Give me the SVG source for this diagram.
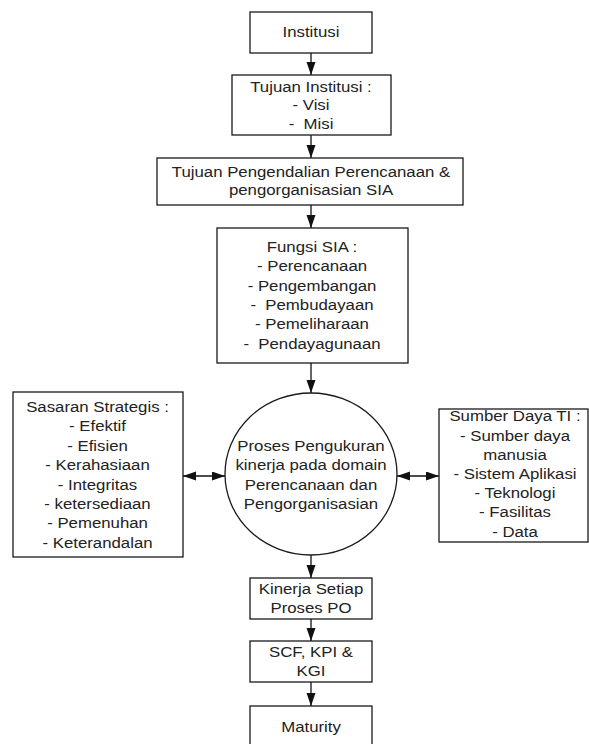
<svg xmlns="http://www.w3.org/2000/svg" width="589" height="744" viewBox="0 0 589 744">
<defs>
<marker id="ah" markerUnits="userSpaceOnUse" markerWidth="14" markerHeight="10" refX="13" refY="4.5" orient="auto-start-reverse">
<path d="M0,0 L13,4.5 L0,9 z" fill="#111"/>
</marker>
<style>
.b{fill:#fff;stroke:#1a1a1a;stroke-width:1.3}
.t{font-family:"Liberation Sans",Arial,sans-serif;font-size:15px;fill:#222;text-anchor:middle;white-space:pre}
.c{stroke:#111;stroke-width:1.3;fill:none;marker-end:url(#ah)}
.d{stroke:#111;stroke-width:1.3;fill:none;marker-start:url(#ah);marker-end:url(#ah)}
</style>
</defs>
<rect width="589" height="744" fill="#fff"/>
<g id="connectors">
<line class="c" x1="311" y1="53" x2="311" y2="75"/>
<line class="c" x1="311" y1="135" x2="311" y2="158"/>
<line class="c" x1="311" y1="205" x2="311" y2="228"/>
<line class="c" x1="311" y1="363" x2="311" y2="393"/>
<line class="c" x1="311" y1="555" x2="311" y2="578"/>
<line class="c" x1="311" y1="619" x2="311" y2="641"/>
<line class="c" x1="311" y1="682" x2="311" y2="706"/>
<line class="d" x1="183" y1="476" x2="225" y2="476"/>
<line class="d" x1="397" y1="476" x2="439" y2="476"/>
</g>
<g id="institusi">
<rect class="b" x="250" y="12" width="122" height="41"/>
<text class="t" transform="matrix(1.12 0 0 1 311 0)"><tspan x="0" y="37.5">Institusi</tspan></text>
</g>
<g id="tujuan-institusi">
<rect class="b" x="232" y="75" width="159" height="60"/>
<text class="t" transform="matrix(1.12 0 0 1 311 0)"><tspan x="0" y="92">Tujuan Institusi :</tspan><tspan x="0" y="110.5">- Visi</tspan><tspan x="0" y="129">-  Misi</tspan></text>
</g>
<g id="tujuan-pengendalian">
<rect class="b" x="157" y="158" width="306" height="47"/>
<text class="t" transform="matrix(1.12 0 0 1 311 0)"><tspan x="0" y="177.5">Tujuan Pengendalian Perencanaan &amp;</tspan><tspan x="0" y="195.5">pengorganisasian SIA</tspan></text>
</g>
<g id="fungsi-sia">
<rect class="b" x="217" y="228" width="191" height="135"/>
<text class="t" transform="matrix(1.12 0 0 1 312 0)"><tspan x="0" y="252">Fungsi SIA :</tspan><tspan x="0" y="271.3">- Perencanaan</tspan><tspan x="0" y="290.6">- Pengembangan</tspan><tspan x="0" y="310">-  Pembudayaan</tspan><tspan x="0" y="329.3">- Pemeliharaan</tspan><tspan x="0" y="348.6">-  Pendayagunaan</tspan></text>
</g>
<g id="sasaran-strategis">
<rect class="b" x="13" y="392" width="170" height="165"/>
<text class="t" transform="matrix(1.12 0 0 1 97.5 0)"><tspan x="0" y="412">Sasaran Strategis :</tspan><tspan x="0" y="431.4">- Efektif</tspan><tspan x="0" y="450.8">- Efisien</tspan><tspan x="0" y="470.2">- Kerahasiaan</tspan><tspan x="0" y="489.6">- Integritas</tspan><tspan x="0" y="509">- ketersediaan</tspan><tspan x="0" y="528.4">- Pemenuhan</tspan><tspan x="0" y="547.8">- Keterandalan</tspan></text>
</g>
<g id="proses-pengukuran">
<ellipse class="b" cx="311" cy="474" rx="86" ry="81"/>
<text class="t" transform="matrix(1.12 0 0 1 311 0)"><tspan x="0" y="451">Proses Pengukuran</tspan><tspan x="0" y="470.5">kinerja pada domain</tspan><tspan x="0" y="490">Perencanaan dan</tspan><tspan x="0" y="509">Pengorganisasian</tspan></text>
</g>
<g id="sumber-daya">
<rect class="b" x="439" y="409" width="149" height="133"/>
<text class="t" transform="matrix(1.12 0 0 1 515 0)"><tspan x="0" y="421.5">Sumber Daya TI :</tspan><tspan x="0" y="440.7">- Sumber daya</tspan><tspan x="0" y="459.9">manusia</tspan><tspan x="0" y="479.1">- Sistem Aplikasi</tspan><tspan x="0" y="498.3">- Teknologi</tspan><tspan x="0" y="517.5">- Fasilitas</tspan><tspan x="0" y="536.7">- Data</tspan></text>
</g>
<g id="kinerja">
<rect class="b" x="250" y="578" width="122" height="41"/>
<text class="t" transform="matrix(1.12 0 0 1 311 0)"><tspan x="0" y="594">Kinerja Setiap</tspan><tspan x="0" y="613">Proses PO</tspan></text>
</g>
<g id="scf-kpi-kgi">
<rect class="b" x="250" y="641" width="122" height="41"/>
<text class="t" transform="matrix(1.12 0 0 1 311 0)"><tspan x="0" y="657">SCF, KPI &amp;</tspan><tspan x="0" y="676">KGI</tspan></text>
</g>
<g id="maturity">
<rect class="b" x="250" y="706" width="122" height="50"/>
<text class="t" transform="matrix(1.12 0 0 1 311 0)"><tspan x="0" y="732">Maturity</tspan></text>
</g>
</svg>
